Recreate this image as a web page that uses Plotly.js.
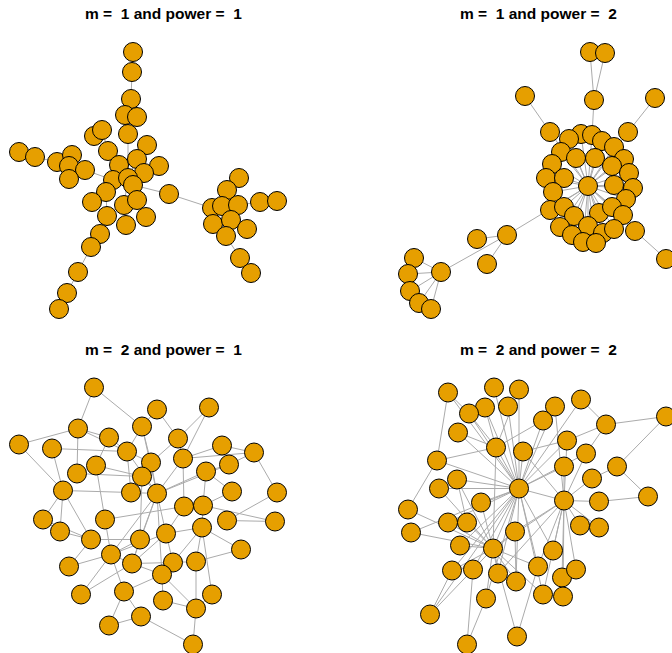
<!DOCTYPE html>
<html>
<head>
<meta charset="utf-8">
<script src="https://cdn.plot.ly/plotly-3.0.1.min.js"></script>
<style>
  html, body { margin: 0; padding: 0; background: #fff; }
  #chart { width: 672px; height: 653px; }
</style>
</head>
<body>
<div id="chart"></div>
<script>
// Four preferential-attachment networks (50 vertices each), laid out in
// panel-local coordinates (x to the right, y downward).

const titles = [
  "m =\u00A0 1 and power =\u00A0 1",
  "m =\u00A0 1 and power =\u00A0 2",
  "m =\u00A0 2 and power =\u00A0 1",
  "m =\u00A0 2 and power =\u00A0 2"
];

// ---- m = 1, power = 1 ----
const x1 = [133,132,131,125,137,128,94,102,147,108,19,35,57,72,69,85,69,119,137,159,144,113,128,133,106,92,124,137,169,107,126,146,100,91,78,67,59,
            239,227,212,222,238,260,277,213,231,247,226,240,251];
const y1 = [52,72,99,115,117,134,136,130,145,151,152,157,162,155,166,170,179,165,159,166,173,180,178,185,192,202,205,200,194,216,225,217,234,247,272,293,309,
            178,190,208,206,205,202,201,224,220,229,236,258,273];
const e1 = [[0,1],[1,2],[2,3],[2,4],[3,5],[5,22],[6,7],[7,9],[9,17],[17,22],[8,18],[18,22],
            [10,11],[11,12],[12,13],[12,14],[14,15],[14,16],[15,21],[21,22],[19,20],[20,22],[23,22],
            [28,23],[24,22],[25,24],[26,22],[27,22],[30,26],[31,27],[29,24],[32,29],[33,32],[34,33],[35,34],[36,35],
            [28,39],[37,38],[38,40],[40,45],[41,45],[42,43],[42,41],[39,45],[44,45],[46,45],[47,45],[48,47],[49,48]];

// ---- m = 1, power = 2 ----
const x2 = [254,269,189,258,319,214,292,245,256,233,266,278,225,240,259,288,216,276,293,210,228,252,278,297,217,290,214,228,238,263,276,287,224,252,236,267,278,299,247,260,
            330,171,141,151,78,105,72,74,83,95];
const y2 = [52,53,96,100,98,132,132,134,135,139,141,147,152,158,158,159,164,166,173,178,178,186,185,188,192,199,210,207,216,213,207,215,227,226,235,233,229,231,242,243,
            259,235,239,264,258,272,274,291,303,309];
const e2 = [[0,3],[1,3],[3,8],[8,21],[2,5],[5,21],[4,6],[6,21],[40,37],[37,21],[41,21],[42,41],[43,41],[45,41],
            [44,45],[46,45],[47,45],[48,45],[49,45],
            [7,21],[9,21],[10,21],[11,21],[12,21],[13,21],[14,21],[15,21],[16,21],[17,21],[18,21],[19,21],[20,21],
            [22,21],[23,21],[24,21],[25,21],[26,21],[27,21],[28,21],[29,21],[30,21],[31,21],[32,21],[33,21],[34,21],
            [35,21],[36,21],[38,21],[39,21]];

// ---- m = 2, power = 1 ----
const x3 = [94,157,209,78,109,142,19,52,178,127,222,254,183,151,96,77,206,229,142,63,131,157,232,277,184,203,43,105,227,275,60,202,166,91,140,241,111,69,132,173,196,162,81,124,163,212,196,141,109,193];
const y3 = [61,83,81,102,111,100,118,122,112,125,119,126,132,136,139,147,145,138,150,164,166,167,165,166,180,179,193,193,194,195,205,201,207,213,213,223,228,240,237,236,235,248,268,265,274,268,282,290,299,318];
const e3 = [[0,3],[0,5],[1,8],[2,8],[2,12],[3,6],[3,4],[3,15],[3,9],[4,9],[5,9],[5,13],[5,21],[6,19],[7,9],[7,19],
            [8,12],[8,13],[9,13],[9,21],[10,11],[12,11],[11,23],[12,21],[14,18],[15,18],[19,20],[18,21],[21,16],[21,17],
            [16,25],[22,25],[19,26],[19,30],[19,33],[18,34],[21,41],[21,36],[21,38],[27,24],[24,25],[25,29],[28,29],[23,28],
            [32,31],[31,35],[31,40],[31,45],[31,39],[34,36],[33,34],[26,33],[37,36],[42,38],[36,43],[43,41],[43,48],[47,48],
            [47,49],[43,47],[44,46],[40,46],[46,49],[41,46],[38,39],[40,35],[32,38],[36,32],[10,12],[17,11],[27,36],
            [21,32],[21,34],[24,32],[25,31],[34,38],[38,41],[39,32],[41,44],[36,38],[30,33],[26,30],[33,37],[42,36],
            [14,27],[9,20],[13,21],[16,17],[20,21],[40,39],[45,46],[12,24],[5,1],[4,14],[22,16]];

// ---- m = 2, power = 2 ----
const x4 = [112,158,183,149,172,133,219,245,207,270,330,122,160,187,231,250,101,228,281,121,256,103,183,228,263,312,145,72,112,131,244,263,179,75,124,157,217,116,137,162,180,202,226,240,207,227,150,94,181,131];
const y4 = [66,61,63,81,80,87,80,73,94,98,90,106,121,125,114,127,134,140,140,153,152,162,162,174,175,170,176,183,196,196,199,201,205,206,219,222,224,244,243,247,255,240,251,243,268,270,272,288,310,318];
const e4 = [[0,16],[0,5],[1,22],[2,22],[3,22],[4,22],[5,22],[5,12],[3,12],[6,23],[7,22],[7,9],[9,10],[9,14],[9,15],
            [10,18],[18,20],[18,25],[24,25],[8,12],[8,22],[11,12],[16,12],[16,22],[16,27],[12,22],[13,14],[13,22],[14,23],
            [17,23],[20,23],[24,23],[19,29],[21,22],[26,22],[27,35],[33,35],[28,22],[29,35],[32,35],[32,23],[34,35],
            [35,37],[35,38],[35,39],[35,40],[35,41],[35,44],[35,46],[37,47],[47,38],[46,49],[38,49],[48,35],[48,41],
            [36,23],[45,23],[42,23],[43,23],[30,23],[31,23],[32,40],[22,35],[22,23],
            [11,22],[19,22],[34,22],[36,22],[41,22],[44,22],[39,22],[40,22],[38,22],[14,22],[15,22],[17,22],[6,22],
            [23,35],[23,41],[23,44],[23,39],[23,13],[23,15],[28,35],[21,35],[26,35],[12,35],[19,35],[37,22],[47,22],
            [46,22],[2,12],[33,22],[0,22]];

const panels = [
  {x: x1, y: y1, e: e1},
  {x: x2, y: y2, e: e2},
  {x: x3, y: y3, e: e3},
  {x: x4, y: y4, e: e4}
];

const traces = [];
panels.forEach((p, i) => {
  const suffix = i === 0 ? "" : String(i + 1);
  const ex = [], ey = [];
  p.e.forEach(([a, b]) => {
    ex.push(p.x[a], p.x[b], null);
    ey.push(p.y[a], p.y[b], null);
  });
  traces.push({
    type: "scatter", mode: "lines", x: ex, y: ey,
    xaxis: "x" + suffix, yaxis: "y" + suffix,
    line: {color: "#ABABAB", width: 1},
    hoverinfo: "skip", showlegend: false
  });
  traces.push({
    type: "scatter", mode: "markers", x: p.x, y: p.y,
    xaxis: "x" + suffix, yaxis: "y" + suffix,
    marker: {size: 19, color: "#E69F00", line: {color: "#000000", width: 1}},
    hoverinfo: "skip", showlegend: false
  });
});

function ax(domain, range) {
  return {domain: domain, range: range, visible: false, fixedrange: true};
}

const W = 336, H = 326.5;
const layout = {
  width: 672, height: 653,
  margin: {l: 0, r: 0, t: 0, b: 0},
  paper_bgcolor: "#ffffff", plot_bgcolor: "#ffffff",
  showlegend: false,
  xaxis:  ax([0, 0.5], [0, W]),  yaxis:  ax([0.5, 1], [H, 0]),
  xaxis2: ax([0.5, 1], [0, W]),  yaxis2: ax([0.5, 1], [H, 0]),
  xaxis3: ax([0, 0.5], [0, W]),  yaxis3: ax([0, 0.5], [H, 0]),
  xaxis4: ax([0.5, 1], [0, W]),  yaxis4: ax([0, 0.5], [H, 0]),
  annotations: [
    {text: "<b>" + titles[0] + "</b>", x: 163 / 672, y: 1 - 14 / 653},
    {text: "<b>" + titles[1] + "</b>", x: 538 / 672, y: 1 - 14 / 653},
    {text: "<b>" + titles[2] + "</b>", x: 163 / 672, y: 1 - 349 / 653},
    {text: "<b>" + titles[3] + "</b>", x: 538 / 672, y: 1 - 349 / 653}
  ].map(a => Object.assign(a, {
    xref: "paper", yref: "paper", showarrow: false,
    xanchor: "center", yanchor: "middle",
    font: {family: "Liberation Sans, Arial, sans-serif", size: 15.5, color: "#000"}
  }))
};

Plotly.newPlot("chart", traces, layout, {staticPlot: true, displayModeBar: false});
</script>
</body>
</html>
